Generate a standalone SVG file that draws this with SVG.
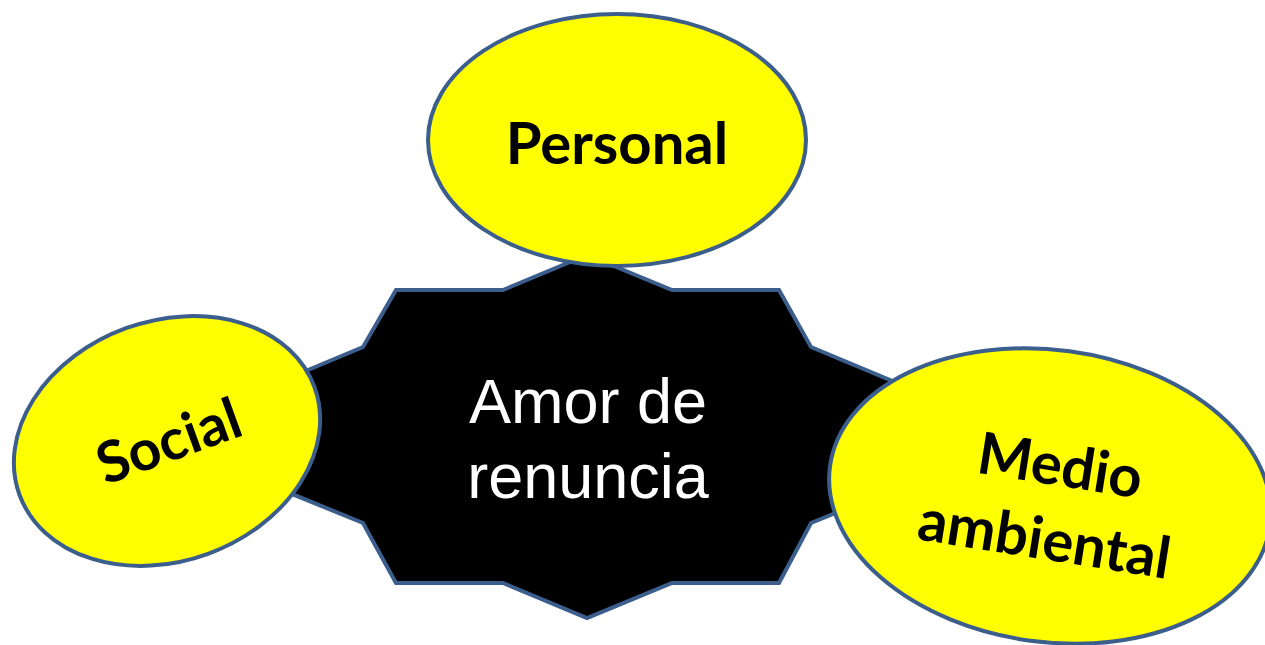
<svg xmlns="http://www.w3.org/2000/svg" width="1265" height="645" viewBox="0 0 1265 645">
<style>
.bub{fill:#ffff00;stroke:#3b5e8c;stroke-width:4}
.lbl{font-family:Lato,"Open Sans",sans-serif;font-weight:bold;fill:#000;text-anchor:middle}
.ctr{font-family:"Liberation Sans",Arial,sans-serif;fill:#fff;text-anchor:middle;font-size:63px}
</style>
<g id="center">
<polygon points="587,255 672,290 779,290 811,347 1024,436 811,523 779,583 672,583 587,618 503,583 396,583 363,523 150,436 363,347 396,290 503,290" fill="#000" stroke="#3b5e8c" stroke-width="4" stroke-linejoin="miter"/>
</g>
<g id="connectors"></g>
<g id="personal">
<ellipse class="bub" cx="617" cy="140" rx="189" ry="126"/>
<text class="lbl" x="617" y="164" font-size="58">Personal</text>
</g>
<g id="social">
<ellipse class="bub" cx="167" cy="441" rx="157" ry="120" transform="rotate(-20 167 441)"/>
<text class="lbl" x="169" y="461" font-size="57" transform="rotate(-20 169 442)">Social</text>
</g>
<g id="medio">
<ellipse class="bub" cx="1050" cy="496" rx="222" ry="146" transform="rotate(7.7 1050 496)"/>
<g transform="rotate(9 1052 505)">
<text class="lbl" x="1054" y="485" font-size="58">Medio</text>
<text class="lbl" x="1050" y="560" font-size="58">ambiental</text>
</g>
</g>
<g id="center-text">
<text class="ctr" x="588" y="423">Amor de</text>
<text class="ctr" x="588" y="498">renuncia</text>
</g>
</svg>
